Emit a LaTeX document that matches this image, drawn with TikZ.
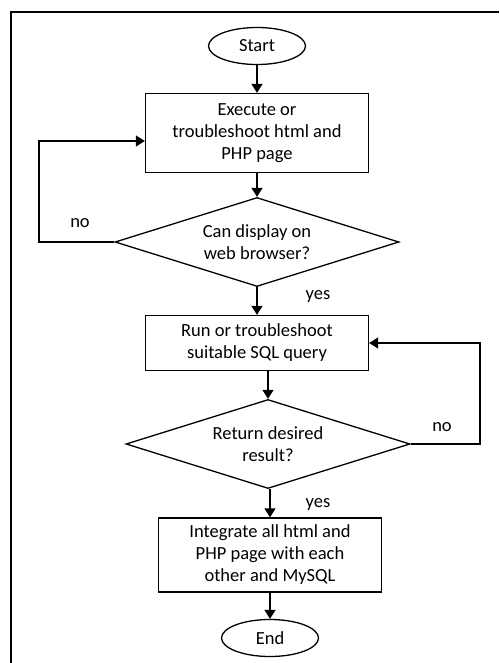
\documentclass[tikz,border=0pt]{standalone}
\usepackage{fontspec}
\setmainfont{Carlito}
\usetikzlibrary{arrows.meta,shapes.geometric}
\begin{document}
\begin{tikzpicture}[x=1pt,y=-1pt,line width=1.3pt,
  font=\fontsize{18.5}{22}\selectfont,
  terminal/.style={ellipse, draw, minimum width=97, minimum height=37, inner sep=0pt},
  process/.style={rectangle, draw, align=center, inner sep=0pt, minimum width=223},
  decision/.style={diamond, draw, align=center, inner sep=0pt, shape aspect=3.2, minimum width=284, minimum height=89},
  arrow/.style={-{Triangle[length=9pt,width=11pt]}},
  label/.style={inner sep=0pt}]
\useasboundingbox (0,0) rectangle (499,663);
% frame
\draw (11,663) -- (11,12) -- (499,12);
% nodes
\node [terminal] (start) at (257,46) {Start};
\node [process, minimum height=79] (exec) at (257,133) {Execute or\\troubleshoot html and\\PHP page};
\node [decision] (display) at (257,242) {Can display on\\web browser?};
\node [process, minimum height=55] (query) at (257,343) {Run or troubleshoot\\suitable SQL query};
\node [decision] (result) at (268,444) {Return desired\\result?};
\node [process, minimum height=74] (integrate) at (270,555) {Integrate all html and\\PHP page with each\\other and MySQL};
\node [terminal] (end) at (270,638) {End};
\coordinate (noleft) at (39,242);
\coordinate (noright) at (480,444);
% labels
\node [label] (nolabel1) at (80,223) {no};
\node [label] (yeslabel1) at (318,297) {yes};
\node [label] (nolabel2) at (442,427) {no};
\node [label] (yeslabel2) at (318,504) {yes};
% connectors
\draw [arrow] (start) -- (exec);
\draw [arrow] (exec) -- (display);
\draw [arrow] (display) -- (query);
\draw [arrow] (query.south -| result.north) -- (result.north);
\draw [arrow] (result.south -| integrate.north) -- (integrate.north);
\draw [arrow] (integrate) -- (end);
\draw [arrow] (display.west) -- (noleft) |- ([yshift=-8pt]exec.west);
\draw [arrow] (result.east) -- (noright) |- (query.east);
\end{tikzpicture}
\end{document}
